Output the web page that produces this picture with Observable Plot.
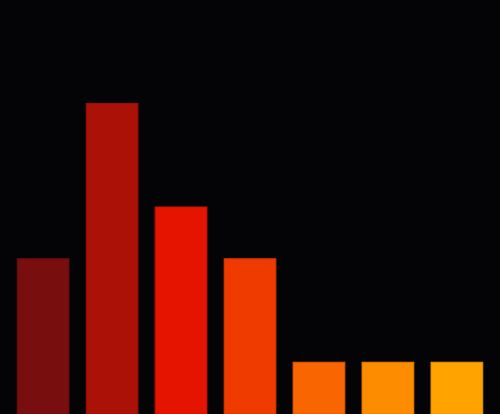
<!DOCTYPE html>
<html>
<head>
<meta charset="utf-8">
<script src="https://cdn.jsdelivr.net/npm/d3@7"></script>
<script src="https://cdn.jsdelivr.net/npm/@observablehq/plot@0.6"></script>
<style>
  html, body { margin: 0; padding: 0; background: #040305; }
  #chart { width: 500px; height: 414px; overflow: hidden; }
  svg { display: block; }
</style>
</head>
<body>
<div id="chart"></div>
<script>
const categories = ["A", "B", "C", "D", "E", "F", "G"];
const values = [3, 6, 4, 3, 1, 1, 1];
const colors = ["#790e0f", "#ac1107", "#e41400", "#ef3b00", "#f96500", "#fe8c00", "#ffa300"];
const strokes = ["#6a0c0d", "#9a0f06", "#cc1200", "#d93500", "#e05a00", "#e87f00", "#e89400"];

const data = categories.map((c, i) => ({ cat: c, value: values[i], fill: colors[i], stroke: strokes[i] }));

const chart = Plot.plot({
  width: 500,
  height: 414,
  margin: 0,
  style: { background: "#040305" },
  x: { domain: categories, padding: 0.25, round: false, axis: null },
  y: { domain: [0, 8], axis: null },
  marks: [
    Plot.barY(data, { x: "cat", y: "value", fill: d => d.fill, stroke: d => d.stroke, strokeWidth: 1 })
  ]
});
document.getElementById("chart").appendChild(chart);
</script>
</body>
</html>
